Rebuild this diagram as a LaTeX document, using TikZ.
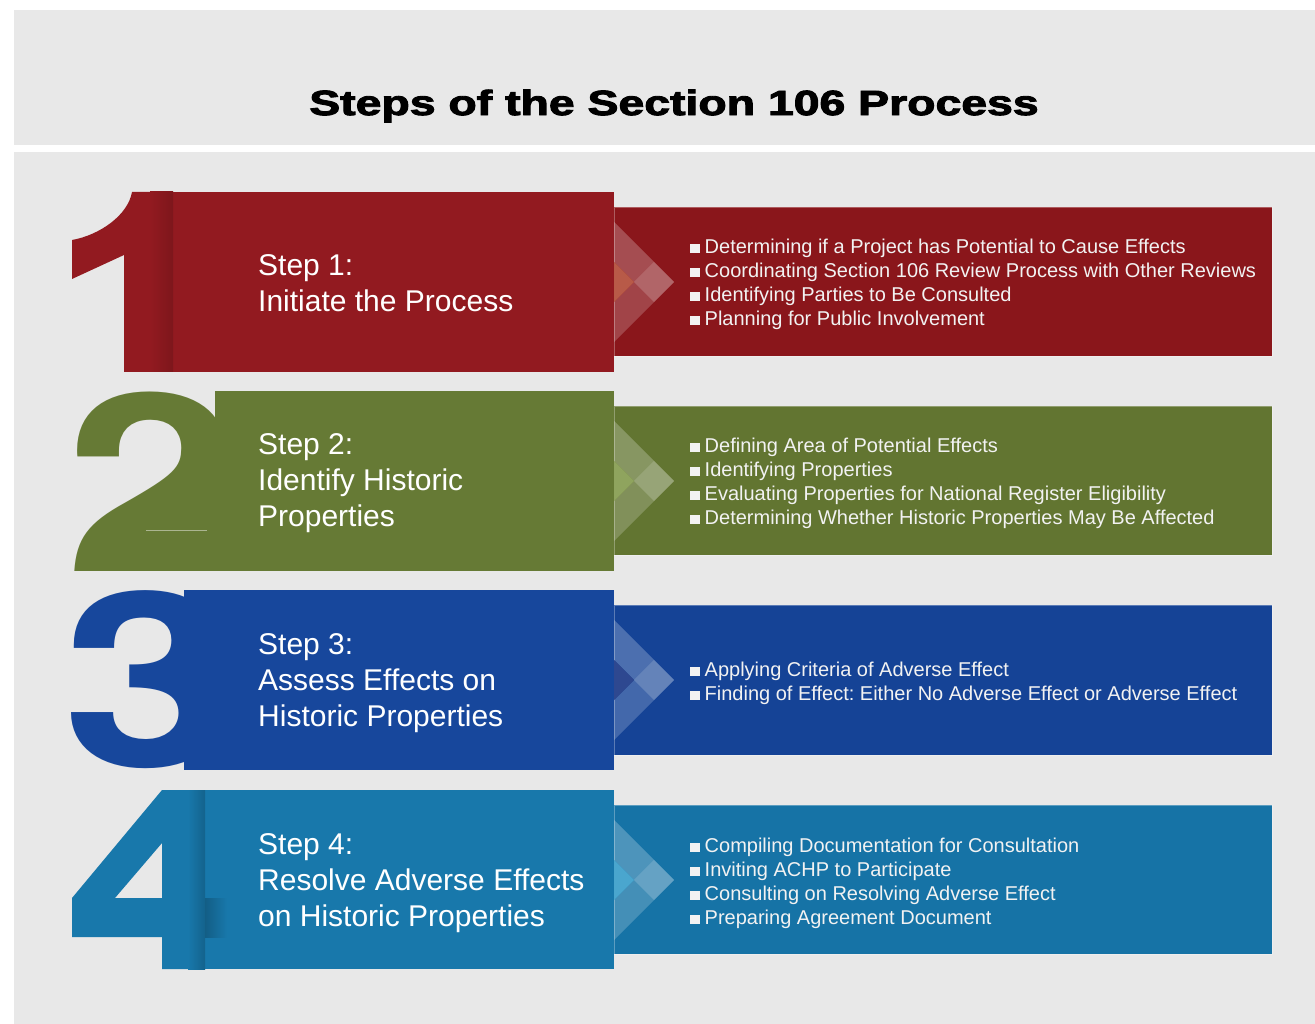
\documentclass[tikz,border=0pt]{standalone}
\usepackage{fontspec}
\usepackage{graphicx}
\setmainfont{Liberation Sans}
\newfontfamily\digitfont{TeX Gyre Heros}
\newfontfamily\titlefont[BoldFeatures={FakeBold=2.5}]{Liberation Sans}
\frenchspacing

\definecolor{panelgray}{HTML}{E8E8E8}
\definecolor{redA}{HTML}{921A20}
\definecolor{redB}{HTML}{8A161B}
\definecolor{redC}{HTML}{B85A48}
\definecolor{grnA}{HTML}{667A35}
\definecolor{grnB}{HTML}{627531}
\definecolor{grnC}{HTML}{8FA45E}
\definecolor{bluA}{HTML}{17479C}
\definecolor{bluB}{HTML}{154396}
\definecolor{bluC}{HTML}{2E4890}
\definecolor{tealA}{HTML}{1878AB}
\definecolor{tealB}{HTML}{1673A6}
\definecolor{tealC}{HTML}{4AA6CE}
\definecolor{listwhite}{HTML}{F2F2F2}

\newcommand\sq{\rule{9.5pt}{9.5pt}\hspace{5pt}}
\newcommand\bigdigit[3]{\scalebox{#2}[1]{\digitfont\bfseries\fontsize{#3}{#3}\selectfont #1}}

\tikzset{
  steptext/.style={anchor=west, align=left, inner sep=0pt, text=white,
    font=\fontsize{30}{36}\selectfont},
  listtext/.style={anchor=west, align=left, inner sep=0pt, text=listwhite,
    font=\fontsize{20}{24}\selectfont},
  panel/.style={fill=#1, draw=white, draw opacity=.3, line width=.8pt},
  chev/.pic={
    \fill[white, fill opacity=.24] (0,-60) -- (40,-20) -- (20,0) -- (0,-20) -- cycle;
    \fill[white, fill opacity=.20] (0,60) -- (40,20) -- (20,0) -- (0,20) -- cycle;
    \fill[white, fill opacity=.34] (20,0) -- (40,-20) -- (60,0) -- (40,20) -- cycle;
    \fill[#1] (0,-20) -- (20,0) -- (0,20) -- cycle;
  }
}

\begin{document}
\begin{tikzpicture}[x=1pt,y=-1pt]
\useasboundingbox (0,0) rectangle (1315,1024);
\fill[white] (0,0) rectangle (1315,1024);

% background panels
\fill[panelgray] (14,10) rectangle (1315,145);
\fill[panelgray] (14,152) rectangle (1315,1024);

\node[name=title, inner sep=0pt] at (674,106)
  {\scalebox{1.325}[1]{\titlefont\bfseries\fontsize{35}{35}\selectfont Steps of the Section 106 Process}};

% ---------- step 1 ----------
\fill[panel=redB] (614,207) rectangle (1272,356);
\fill[redA] (173,192) rectangle (614,372);
\fill[redA] (124,372) -- (124,255) -- (72,279) -- (72,240)
  .. controls (100,235) and (128,215) .. (132,192) -- (173,192) -- (173,372) -- cycle;
\fill[left color=redA, right color=redA!86!black] (150,192) rectangle (173,372);
\pic at (614,282) {chev=redC};
\node[steptext, name=step1] at (258,283) {Step 1:\\Initiate the Process};
\node[listtext, name=list1] at (690,284) {%
  \sq Determining if a Project has Potential to Cause Effects\\
  \sq Coordinating Section 106 Review Process with Other Reviews\\
  \sq Identifying Parties to Be Consulted\\
  \sq Planning for Public Involvement};

% ---------- step 2 ----------
\fill[panel=grnB] (614,406) rectangle (1272,555);
\fill[grnA] (215,391) rectangle (614,571);
\node[name=digit2, anchor=base west, inner sep=0pt, text=grnA] at (65,571) {\bigdigit{2}{1.25}{248}};
% ribbon fill behind the lower bar of the two, with its lit edge
\fill[grnA] (110,548) -- (222,548) -- (222,448) -- cycle;
\draw[white, draw opacity=.45, line width=.8pt] (146,530.5) -- (207,530.5);
\pic at (614,481) {chev=grnC};
\node[steptext, name=step2] at (258,483) {Step 2:\\Identify Historic\\Properties};
\node[listtext, name=list2] at (690,483) {%
  \sq Defining Area of Potential Effects\\
  \sq Identifying Properties\\
  \sq Evaluating Properties for National Register Eligibility\\
  \sq Determining Whether Historic Properties May Be Affected};

% ---------- step 3 ----------
\fill[panel=bluB] (614,605) rectangle (1272,755);
\fill[bluA] (184,590) rectangle (614,770);
\node[name=digit3, anchor=base west, inner sep=0pt, text=bluA] at (62,766) {\bigdigit{3}{1.275}{243}};
\pic at (614,680) {chev=bluC};
\node[steptext, name=step3] at (258,683) {Step 3:\\Assess Effects on\\Historic Properties};
\node[listtext, name=list3] at (690,683) {%
  \sq Applying Criteria of Adverse Effect\\
  \sq Finding of Effect: Either No Adverse Effect or Adverse Effect};

% ---------- step 4 ----------
\fill[panel=tealB] (614,805) rectangle (1272,954);
\fill[tealA] (205,790) rectangle (614,969);
\fill[tealA, even odd rule]
  (162,790) -- (205,790) -- (205,898) -- (227,898) -- (227,937) -- (205,937)
  -- (205,969) -- (162,969) -- (162,937) -- (72,937) -- (72,898) -- cycle
  (115,898) -- (162,843) -- (162,898) -- cycle;
\fill[left color=tealA, right color=tealA!82!black] (188,790) rectangle (205,969);
\fill[left color=tealA!78!black, right color=tealA] (205,898) rectangle (227,937);
\pic at (614,880) {chev=tealC};
\node[steptext, name=step4] at (258,883) {Step 4:\\Resolve Adverse Effects\\on Historic Properties};
\node[listtext, name=list4] at (690,883) {%
  \sq Compiling Documentation for Consultation\\
  \sq Inviting ACHP to Participate\\
  \sq Consulting on Resolving Adverse Effect\\
  \sq Preparing Agreement Document};
\end{tikzpicture}
\end{document}
